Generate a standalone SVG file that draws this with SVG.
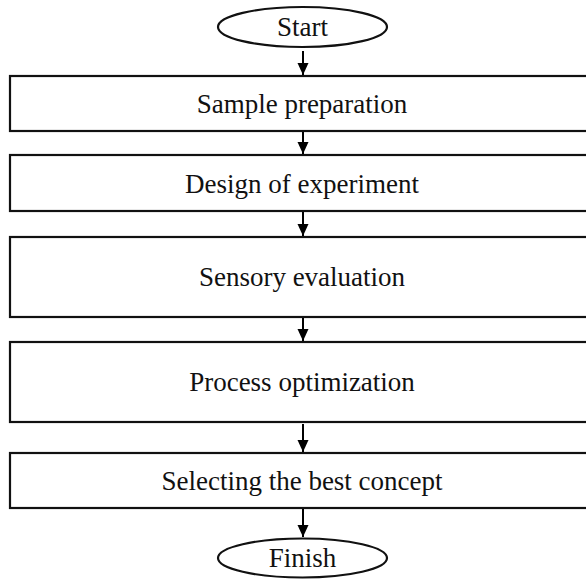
<svg xmlns="http://www.w3.org/2000/svg" width="586" height="580" viewBox="0 0 586 580">
  <defs>
    <marker id="head" viewBox="0 0 12 12" refX="12" refY="6" markerWidth="12" markerHeight="12" markerUnits="userSpaceOnUse" orient="auto">
      <path d="M0,0.5 L12,6 L0,11.5 Z" fill="#000"/>
    </marker>
    <style>
      .shape { fill: #fff; stroke: #111; stroke-width: 2.2; }
      .label { font-family: "Liberation Serif", "Times New Roman", serif; font-size: 27px; fill: #111; text-anchor: middle; }
      .flow { stroke: #000; stroke-width: 2; fill: none; marker-end: url(#head); }
    </style>
  </defs>
  <rect width="586" height="580" fill="#fff"/>

  <!-- vertical flow arrows between consecutive steps -->
  <g id="connectors">
    <line class="flow" x1="303" y1="51" x2="303" y2="75"/>
    <line class="flow" x1="303" y1="131" x2="303" y2="154"/>
    <line class="flow" x1="303" y1="211" x2="303" y2="236"/>
    <line class="flow" x1="303" y1="317" x2="303" y2="341"/>
    <line class="flow" x1="303" y1="424" x2="303" y2="452"/>
    <line class="flow" x1="303" y1="509" x2="303" y2="537"/>
  </g>

  <g id="start">
    <ellipse class="shape" cx="302.5" cy="27" rx="84.5" ry="20"/>
    <text class="label" x="302.5" y="36">Start</text>
  </g>

  <g id="sample-preparation">
    <rect class="shape" x="10" y="76" width="584" height="55"/>
    <text class="label" x="302" y="113">Sample preparation</text>
  </g>

  <g id="design-of-experiment">
    <rect class="shape" x="10" y="155" width="584" height="56"/>
    <text class="label" x="302" y="193">Design of experiment</text>
  </g>

  <g id="sensory-evaluation">
    <rect class="shape" x="10" y="237" width="584" height="80"/>
    <text class="label" x="302" y="286">Sensory evaluation</text>
  </g>

  <g id="process-optimization">
    <rect class="shape" x="10" y="342" width="584" height="80"/>
    <text class="label" x="302" y="391">Process optimization</text>
  </g>

  <g id="selecting-best-concept">
    <rect class="shape" x="10" y="453" width="584" height="55"/>
    <text class="label" x="302" y="490">Selecting the best concept</text>
  </g>

  <g id="finish">
    <ellipse class="shape" cx="302.5" cy="558" rx="84.5" ry="19.5"/>
    <text class="label" x="302.5" y="567">Finish</text>
  </g>
</svg>
